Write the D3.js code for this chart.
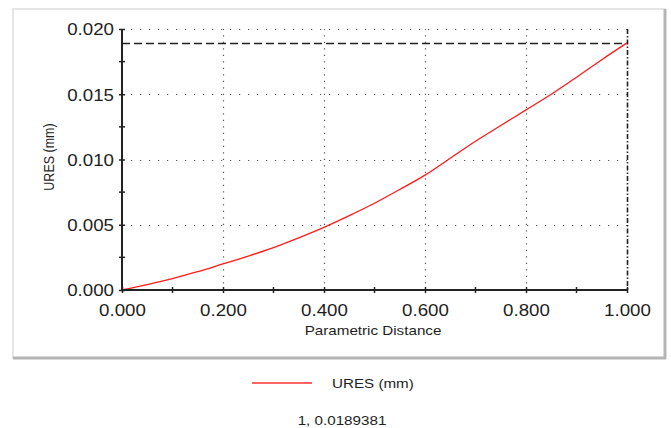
<!DOCTYPE html>
<html>
<head>
<meta charset="utf-8">
<script src="https://cdn.jsdelivr.net/npm/d3@7"></script>
<style>
  body { margin: 0; background: #fff; }
  text { font-family: "Liberation Sans", Arial, sans-serif; fill: #1e1e1e; }
</style>
</head>
<body>
<div id="chart"></div>
<script>
// parametric distance along the path
const distance = [0, 0.05, 0.1, 0.15, 0.2, 0.25, 0.3, 0.35, 0.4, 0.45, 0.5,
                  0.55, 0.6, 0.65, 0.7, 0.75, 0.8, 0.85, 0.9, 0.95, 1.0];
// resultant displacement (mm)
const ures = [0, 0.00042, 0.00088, 0.0014, 0.002, 0.0026, 0.00325, 0.004, 0.0048, 0.0057, 0.00665,
              0.0077, 0.0088, 0.0101, 0.0114, 0.0126, 0.0138, 0.0150, 0.0163, 0.01765, 0.0189381];
const xTicks = [0, 0.2, 0.4, 0.6, 0.8, 1.0];
const xMinor = [0.1, 0.3, 0.5, 0.7, 0.9];
const yTicks = [0, 0.005, 0.010, 0.015, 0.020];
const yMinor = [0.0025, 0.0075, 0.0125, 0.0175];
const probe = [1, 0.0189381];

const width = 671, height = 428;
const sx = 1.17; // the original is stretched sideways

const svg = d3.select("#chart").append("svg")
    .attr("width", width)
    .attr("height", height)
    .style("display", "block");

// panel with a soft shadow edge
svg.append("rect").attr("x", 13).attr("y", 9).attr("width", 652).attr("height", 349)
    .attr("fill", "#fff").attr("stroke", "#e6e6e6").attr("stroke-width", 2);
svg.append("line").attr("x1", 665).attr("x2", 665).attr("y1", 9).attr("y2", 359)
    .attr("stroke", "#b5b5b5").attr("stroke-width", 3);
svg.append("line").attr("x1", 13).attr("x2", 666).attr("y1", 358).attr("y2", 358)
    .attr("stroke", "#b5b5b5").attr("stroke-width", 3);

const x = d3.scaleLinear().domain([0, 1]).range([122, 627]);
const y = d3.scaleLinear().domain([0, 0.02]).range([290, 29]);

// dotted grid
const grid = svg.append("g").attr("stroke", "#555").attr("stroke-width", 1.2);
grid.selectAll(".gy").data(yTicks.slice(1)).enter().append("line")
    .attr("x1", x(0)).attr("x2", x(1))
    .attr("y1", d => Math.round(y(d)) + 0.5).attr("y2", d => Math.round(y(d)) + 0.5)
    .attr("stroke-dasharray", "1.2,7.8");
grid.selectAll(".gx").data(xTicks.slice(1, -1)).enter().append("line")
    .attr("x1", d => Math.round(x(d)) + 0.5).attr("x2", d => Math.round(x(d)) + 0.5)
    .attr("y1", y(0)).attr("y2", y(0.02))
    .attr("stroke-dasharray", "1.2,5.3");

// probe markers at the end point
svg.append("line")
    .attr("x1", x(0)).attr("x2", x(probe[0]))
    .attr("y1", Math.round(y(probe[1])) + 0.5).attr("y2", Math.round(y(probe[1])) + 0.5)
    .attr("stroke", "#222").attr("stroke-width", 1.4)
    .attr("stroke-dasharray", "8,4");
svg.append("line")
    .attr("x1", x(probe[0]) + 0.5).attr("x2", x(probe[0]) + 0.5)
    .attr("y1", y(0.02)).attr("y2", y(0))
    .attr("stroke", "#222").attr("stroke-width", 1.6)
    .attr("stroke-dasharray", "5,2,1.5,2");

// curve
const line = d3.line()
    .x((d, i) => x(distance[i]))
    .y(d => y(d))
    .curve(d3.curveMonotoneX);
svg.append("path").datum(ures)
    .attr("d", line)
    .attr("fill", "none")
    .attr("stroke", "#ff1a1a")
    .attr("stroke-width", 1.3);

// axes
const xAxis = svg.append("g").attr("transform", `translate(0,${y(0)})`)
    .call(d3.axisBottom(x).tickValues(xTicks).tickFormat(d3.format(".3f")).tickSize(3).tickPadding(12));
xAxis.selectAll(".tick line").attr("y1", -3);
xAxis.append("g").selectAll("line").data(xMinor).enter().append("line")
    .attr("x1", d => x(d)).attr("x2", d => x(d)).attr("y1", -3).attr("y2", 3)
    .attr("stroke", "#222").attr("stroke-width", 1.5);

const yAxis = svg.append("g").attr("transform", `translate(${x(0)},0)`)
    .call(d3.axisLeft(y).tickValues(yTicks).tickFormat(d3.format(".3f")).tickSize(3).tickPadding(5));
yAxis.selectAll(".tick line").attr("x1", 3);
yAxis.append("g").selectAll("line").data(yMinor).enter().append("line")
    .attr("y1", d => y(d)).attr("y2", d => y(d)).attr("x1", -3).attr("x2", 3)
    .attr("stroke", "#222").attr("stroke-width", 1.5);

svg.selectAll(".domain").attr("stroke", "#222").attr("stroke-width", 2);
xAxis.select(".domain").attr("d", `M${x(0)},0H${x(1)}`);
yAxis.select(".domain").attr("d", `M0,${y(0)}V${y(0.02)}`);
svg.selectAll(".tick line").attr("stroke", "#222").attr("stroke-width", 1.5);

svg.selectAll(".tick text")
    .style("font-size", "16px")
    .attr("fill", "#1e1e1e");
// stretch tick labels sideways around their anchor
xAxis.selectAll(".tick text").attr("transform", `scale(${sx},1)`);
yAxis.selectAll(".tick text").attr("transform", `scale(${sx},1)`)
    .attr("x", -8 / sx).attr("dy", "0.36em");

// axis titles
svg.append("text")
    .attr("transform", `translate(373,335) scale(${sx},1)`)
    .attr("text-anchor", "middle")
    .style("font-size", "13px")
    .text("Parametric Distance");
svg.append("text")
    .attr("transform", `translate(54,157) scale(${sx},1) rotate(-90)`)
    .attr("text-anchor", "middle")
    .style("font-size", "12.5px")
    .text("URES (mm)");

// legend
svg.append("line")
    .attr("x1", 252).attr("x2", 312).attr("y1", 383).attr("y2", 383)
    .attr("stroke", "#ff3030").attr("stroke-width", 1.3);
svg.append("text")
    .attr("transform", `translate(332,388) scale(${sx},1)`)
    .style("font-size", "13px")
    .text("URES (mm)");
svg.append("text")
    .attr("transform", `translate(342,425) scale(${sx},1)`)
    .attr("text-anchor", "middle")
    .style("font-size", "13px")
    .text(probe[0] + ", " + probe[1]);
</script>
</body>
</html>
